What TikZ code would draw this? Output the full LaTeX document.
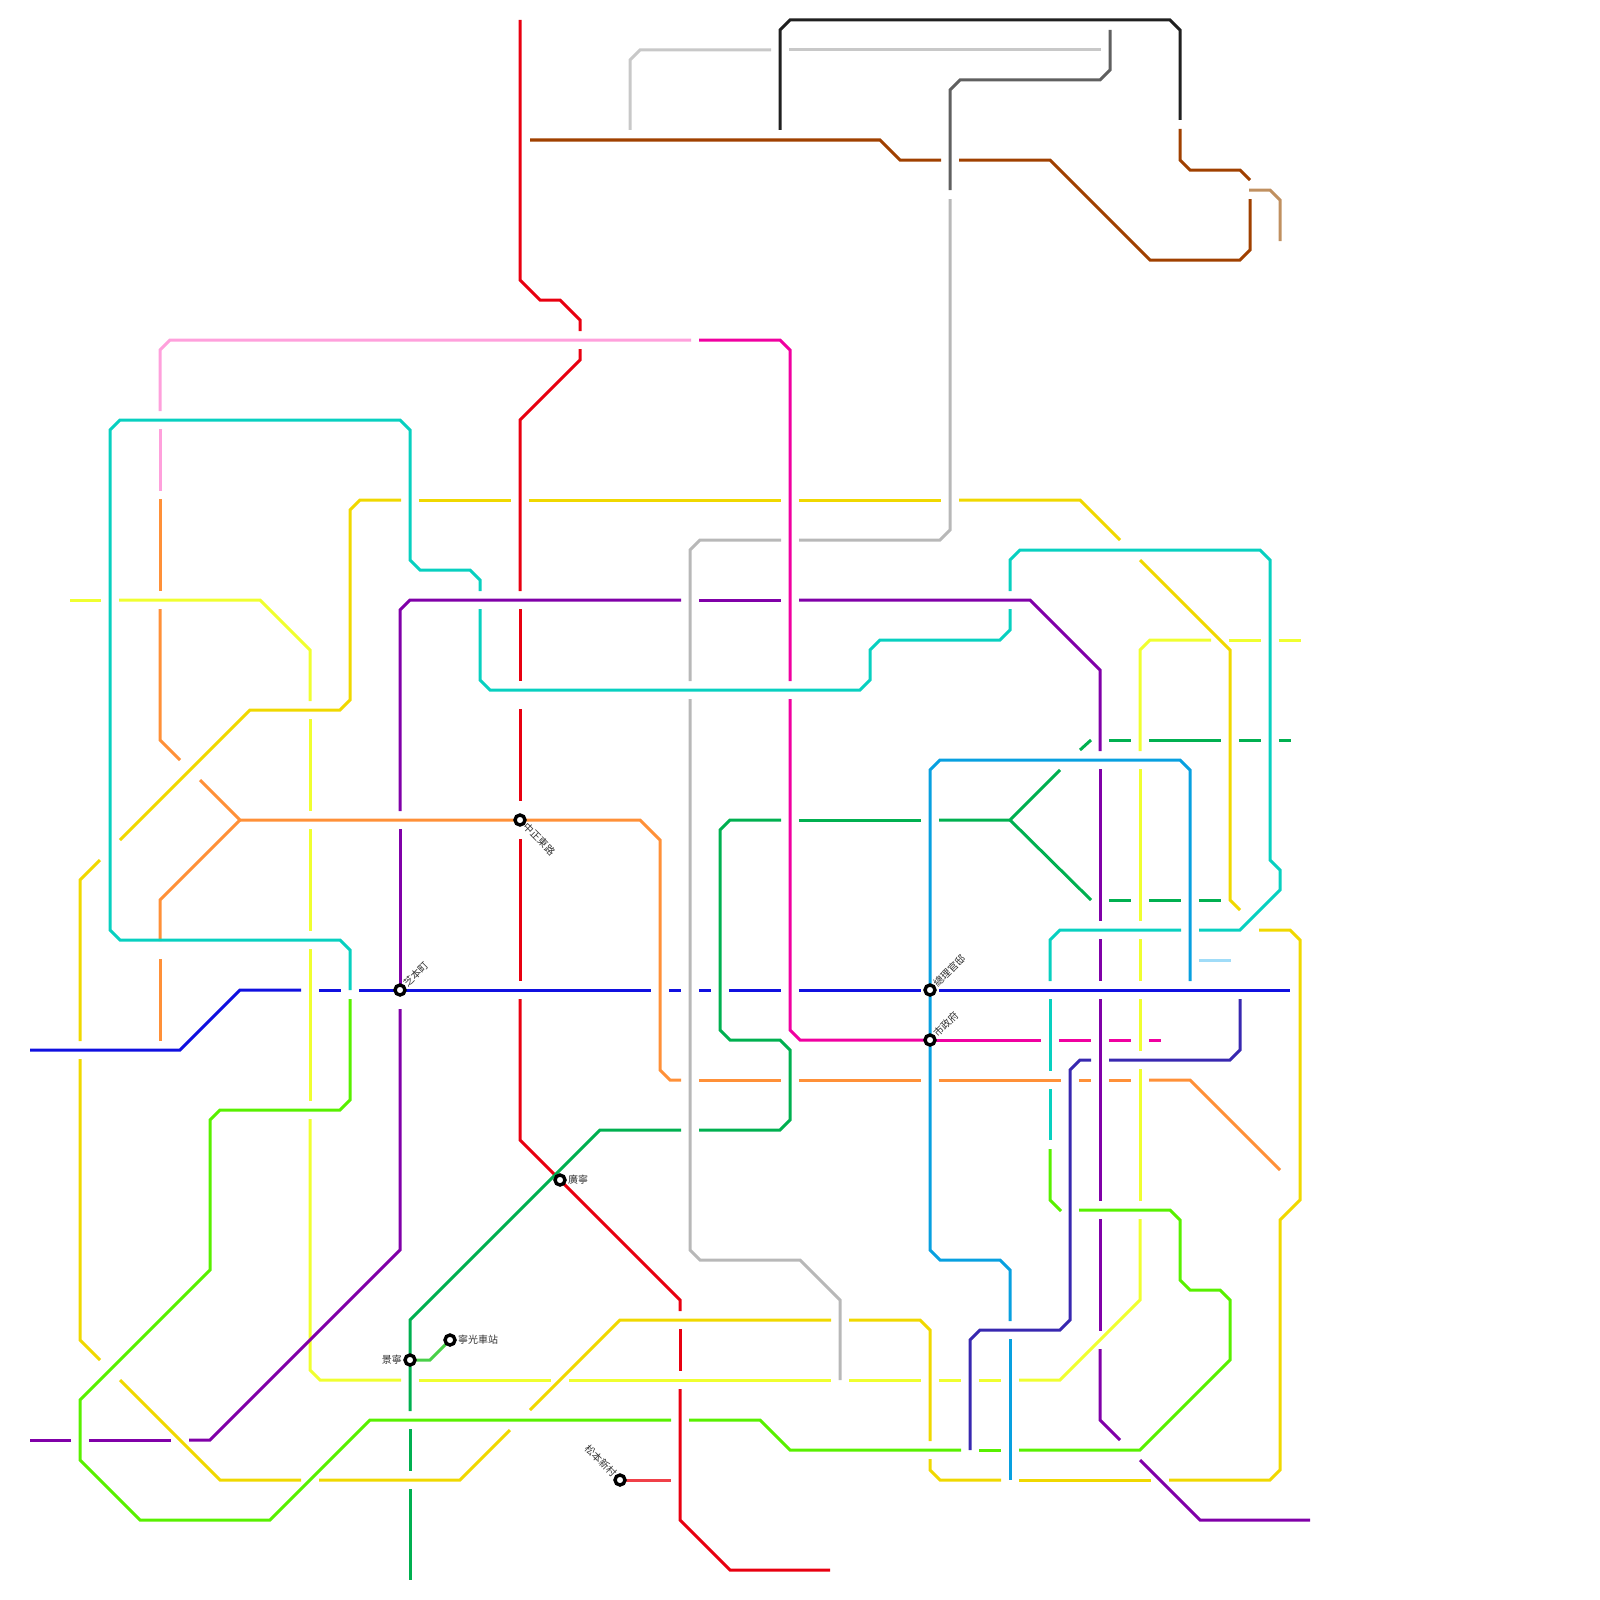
\documentclass[tikz,border=0pt]{standalone}
\usepackage{fontspec}
\setmainfont{Noto Sans CJK TC}
\tikzset{
  rail/.style={line width=3pt},
  lineRed/.style={rail, draw={rgb,255:red,232;green,0;blue,16}},
  lineStub/.style={rail, draw={rgb,255:red,240;green,64;blue,72}},
  lineHot/.style={rail, draw={rgb,255:red,240;green,0;blue,160}},
  linePale/.style={rail, draw={rgb,255:red,255;green,160;blue,220}},
  lineOrange/.style={rail, draw={rgb,255:red,255;green,144;blue,56}},
  lineTeal/.style={rail, draw={rgb,255:red,8;green,208;blue,192}},
  lineLime/.style={rail, draw={rgb,255:red,88;green,240;blue,0}},
  lineGold/.style={rail, draw={rgb,255:red,240;green,216;blue,0}},
  lineYellow/.style={rail, draw={rgb,255:red,240;green,255;blue,48}},
  linePurple/.style={rail, draw={rgb,255:red,128;green,0;blue,168}},
  lineBlue/.style={rail, draw={rgb,255:red,16;green,16;blue,224}},
  lineSky/.style={rail, draw={rgb,255:red,8;green,160;blue,224}},
  lineGreen/.style={rail, draw={rgb,255:red,0;green,176;blue,80}},
  lineLeaf/.style={rail, draw={rgb,255:red,72;green,208;blue,72}},
  lineNavy/.style={rail, draw={rgb,255:red,56;green,40;blue,176}},
  lineIce/.style={rail, draw={rgb,255:red,160;green,220;blue,248}},
  lineSilver/.style={rail, draw={rgb,255:red,200;green,200;blue,200}},
  lineBlack/.style={rail, draw={rgb,255:red,32;green,32;blue,32}},
  lineSlate/.style={rail, draw={rgb,255:red,96;green,96;blue,96}},
  lineAsh/.style={rail, draw={rgb,255:red,184;green,184;blue,184}},
  lineBrown/.style={rail, draw={rgb,255:red,160;green,64;blue,0}},
  lineTan/.style={rail, draw={rgb,255:red,192;green,144;blue,96}},
  station/.style={circle, draw=black, fill=white, line width=3.4pt, minimum size=10pt, inner sep=0pt},
  stnlabel/.style={font=\fontsize{10}{12}\selectfont, text={rgb,255:red,48;green,48;blue,48}, inner sep=0pt}
}
\begin{document}
\begin{tikzpicture}[x=1pt, y=-1pt]
  \useasboundingbox (0,0) rectangle (1600,1600);

  % Stasiun
  \coordinate (zhimoto) at (400,990);
  \coordinate (zhongzheng) at (520,820);
  \coordinate (zongli) at (930,990);
  \coordinate (shizheng) at (930,1040);
  \coordinate (guangning) at (560,1180);
  \coordinate (jingning) at (410,1360);
  \coordinate (ningguang) at (450,1340);
  \coordinate (songben) at (620,1480);

  % Red
  \draw[lineRed] (520,20) -- (520,280) -- (540,300) -- (560,300) -- (580,320) -- (580,331);
  \draw[lineRed] (580,349) -- (580,360) -- (520,420) -- (520,591);
  \draw[lineRed] (520,609) -- (520,681);
  \draw[lineRed] (520,709) -- (520,801);
  \draw[lineRed] (520,839) -- (520,981);
  \draw[lineRed] (520,999) -- (520,1140) -- (680,1300) -- (680,1311);
  \draw[lineRed] (680,1329) -- (680,1371);
  \draw[lineRed] (680,1389) -- (680,1520) -- (730,1570) -- (830,1570);
  \coordinate (songbenEnd) at (671,1480);
  \draw[lineStub] (songben) -- (songbenEnd);

  % Pink
  \draw[linePale] (160,411) -- (160,350) -- (170,340) -- (691,340);
  \draw[linePale] (160,429) -- (160,491);
  \draw[lineHot] (699,340) -- (780,340) -- (790,350) -- (790,681);
  \draw[lineHot] (790,699) -- (790,1030) -- (800,1040) -- (shizheng);
  \draw[lineHot] (shizheng) -- (1041,1040);
  \draw[lineHot] (1059,1040) -- (1091,1040);
  \draw[lineHot] (1109,1040) -- (1131,1040);
  \draw[lineHot] (1149,1040) -- (1161,1040);

  % Orange
  \draw[lineOrange] (160,499) -- (160,591);
  \draw[lineOrange] (160,609) -- (160,740) -- (180,760);
  \draw[lineOrange] (200,780) -- (240,820) -- (zhongzheng) -- (640,820) -- (660,840) -- (660,1070) -- (670,1080) -- (681,1080);
  \draw[lineOrange] (240,820) -- (160,900) -- (160,941);
  \draw[lineOrange] (160,959) -- (160,1041);
  \draw[lineOrange] (699,1080) -- (781,1080);
  \draw[lineOrange] (799,1080) -- (921,1080);
  \draw[lineOrange] (939,1080) -- (1061,1080);
  \draw[lineOrange] (1079,1080) -- (1091,1080);
  \draw[lineOrange] (1109,1080) -- (1131,1080);
  \draw[lineOrange] (1149,1080) -- (1190,1080) -- (1280,1170);

  % Teal
  \draw[lineTeal] (350,990) -- (350,950) -- (340,940) -- (120,940) -- (110,930) -- (110,430) -- (120,420) -- (400,420) -- (410,430) -- (410,560) -- (420,570) -- (470,570) -- (480,580) -- (480,591);
  \draw[lineTeal] (480,609) -- (480,680) -- (490,690) -- (860,690) -- (870,680) -- (870,650) -- (880,640) -- (1000,640) -- (1010,630) -- (1010,609);
  \draw[lineTeal] (1010,591) -- (1010,560) -- (1020,550) -- (1260,550) -- (1270,560) -- (1270,860) -- (1280,870) -- (1280,890) -- (1240,930) -- (1199,930);
  \draw[lineTeal] (1181,930) -- (1060,930) -- (1050,940) -- (1050,981);
  \draw[lineTeal] (1050,999) -- (1050,1071);
  \draw[lineTeal] (1050,1089) -- (1050,1140);

  % Lime
  \draw[lineLime] (350,999) -- (350,1100) -- (340,1110) -- (220,1110) -- (210,1120) -- (210,1270) -- (80,1400) -- (80,1460) -- (140,1520) -- (270,1520) -- (370,1420) -- (671,1420);
  \draw[lineLime] (689,1420) -- (760,1420) -- (790,1450) -- (961,1450);
  \draw[lineLime] (979,1450) -- (1001,1450);
  \draw[lineLime] (1019,1450) -- (1140,1450) -- (1230,1360) -- (1230,1300) -- (1220,1290) -- (1190,1290) -- (1180,1280) -- (1180,1220) -- (1170,1210) -- (1079,1210);
  \draw[lineLime] (1050,1149) -- (1050,1200) -- (1061,1211);

  % Gold
  \draw[lineGold] (120,840) -- (250,710) -- (340,710) -- (350,700) -- (350,510) -- (360,500) -- (401,500);
  \draw[lineGold] (419,500) -- (511,500);
  \draw[lineGold] (529,500) -- (781,500);
  \draw[lineGold] (799,500) -- (941,500);
  \draw[lineGold] (959,500) -- (1080,500) -- (1120,540);
  \draw[lineGold] (1140,560) -- (1230,650) -- (1230,900) -- (1240,910);
  \draw[lineGold] (100,860) -- (80,880) -- (80,1041);
  \draw[lineGold] (80,1059) -- (80,1340) -- (100,1360);
  \draw[lineGold] (120,1380) -- (220,1480) -- (301,1480);
  \draw[lineGold] (319,1480) -- (460,1480) -- (510,1430);
  \draw[lineGold] (530,1410) -- (620,1320) -- (831,1320);
  \draw[lineGold] (849,1320) -- (920,1320) -- (930,1330) -- (930,1441);
  \draw[lineGold] (930,1459) -- (930,1470) -- (940,1480) -- (1001,1480);
  \draw[lineGold] (1019,1480) -- (1151,1480);
  \draw[lineGold] (1169,1480) -- (1270,1480) -- (1280,1470) -- (1280,1220) -- (1300,1200) -- (1300,940) -- (1290,930) -- (1259,930);

  % Yellow
  \draw[lineYellow] (70,600) -- (101,600);
  \draw[lineYellow] (119,600) -- (260,600) -- (310,650) -- (310,701);
  \draw[lineYellow] (310,719) -- (310,811);
  \draw[lineYellow] (310,829) -- (310,931);
  \draw[lineYellow] (310,949) -- (310,1101);
  \draw[lineYellow] (310,1119) -- (310,1370) -- (320,1380) -- (401,1380);
  \draw[lineYellow] (419,1380) -- (551,1380);
  \draw[lineYellow] (569,1380) -- (831,1380);
  \draw[lineYellow] (849,1380) -- (921,1380);
  \draw[lineYellow] (939,1380) -- (961,1380);
  \draw[lineYellow] (979,1380) -- (1001,1380);
  \draw[lineYellow] (1019,1380) -- (1060,1380) -- (1140,1300) -- (1140,1219);
  \draw[lineYellow] (1140,1201) -- (1140,1069);
  \draw[lineYellow] (1140,1051) -- (1140,999);
  \draw[lineYellow] (1140,981) -- (1140,939);
  \draw[lineYellow] (1140,921) -- (1140,769);
  \draw[lineYellow] (1140,751) -- (1140,650) -- (1150,640) -- (1211,640);
  \draw[lineYellow] (1229,640) -- (1261,640);
  \draw[lineYellow] (1279,640) -- (1301,640);

  % Purple
  \draw[linePurple] (400,811) -- (400,610) -- (410,600) -- (681,600);
  \draw[linePurple] (699,600) -- (781,600);
  \draw[linePurple] (799,600) -- (1030,600) -- (1100,670) -- (1100,751);
  \draw[linePurple] (1100,769) -- (1100,921);
  \draw[linePurple] (1100,939) -- (1100,981);
  \draw[linePurple] (1100,999) -- (1100,1201);
  \draw[linePurple] (1100,1219) -- (1100,1331);
  \draw[linePurple] (1100,1349) -- (1100,1420) -- (1120,1440);
  \draw[linePurple] (1140,1460) -- (1200,1520) -- (1310,1520);
  \draw[linePurple] (400,829) -- (zhimoto);
  \draw[linePurple] (400,1009) -- (400,1250) -- (210,1440) -- (189,1440);
  \draw[linePurple] (171,1440) -- (89,1440);
  \draw[linePurple] (71,1440) -- (30,1440);

  % Blue
  \draw[lineBlue] (30,1050) -- (180,1050) -- (240,990) -- (301,990);
  \draw[lineBlue] (319,990) -- (341,990);
  \draw[lineBlue] (359,990) -- (zhimoto) -- (651,990);
  \draw[lineBlue] (669,990) -- (681,990);
  \draw[lineBlue] (699,990) -- (711,990);
  \draw[lineBlue] (729,990) -- (781,990);
  \draw[lineBlue] (799,990) -- (921,990);
  \draw[lineBlue] (939,990) -- (1290,990);

  % Sky
  \draw[lineSky] (1190,981) -- (1190,770) -- (1180,760) -- (940,760) -- (930,770) -- (930,1250) -- (940,1260) -- (1000,1260) -- (1010,1270) -- (1010,1321);
  \draw[lineSky] (1010,1339) -- (1010,1480);

  % Green
  \draw[lineGreen] (1060,770) -- (1010,820) -- (939,820);
  \draw[lineGreen] (1010,820) -- (1091,900);
  \draw[lineGreen] (1109,900) -- (1131,900);
  \draw[lineGreen] (1149,900) -- (1181,900);
  \draw[lineGreen] (1199,900) -- (1221,900);
  \draw[lineGreen] (1080,750) -- (1091,740);
  \draw[lineGreen] (1109,740) -- (1131,740);
  \draw[lineGreen] (1149,740) -- (1221,740);
  \draw[lineGreen] (1239,740) -- (1261,740);
  \draw[lineGreen] (1279,740) -- (1291,740);
  \draw[lineGreen] (921,820) -- (799,820);
  \draw[lineGreen] (781,820) -- (730,820) -- (720,830) -- (720,1030) -- (730,1040) -- (780,1040) -- (790,1050) -- (790,1120) -- (780,1130) -- (699,1130);
  \draw[lineGreen] (681,1130) -- (600,1130) -- (410,1320) -- (jingning) -- (410,1411);
  \draw[lineGreen] (410,1429) -- (410,1471);
  \draw[lineGreen] (410,1489) -- (410,1580);
  \draw[lineLeaf] (jingning) -- (430,1360) -- (ningguang);

  % Navy
  \draw[lineNavy] (970,1450) -- (970,1340) -- (980,1330) -- (1060,1330) -- (1070,1320) -- (1070,1070) -- (1080,1060) -- (1091,1060);
  \draw[lineNavy] (1109,1060) -- (1230,1060) -- (1240,1050) -- (1240,999);
  \draw[lineIce] (1199,960) -- (1231,960);

  % Top grey lines
  \draw[lineSilver] (630,130) -- (630,60) -- (640,50) -- (771,50);
  \draw[lineSilver] (789,50) -- (1101,50);
  \draw[lineBlack] (780,130) -- (780,30) -- (790,20) -- (1170,20) -- (1180,30) -- (1180,120);
  \draw[lineSlate] (1110,30) -- (1110,70) -- (1100,80) -- (960,80) -- (950,90) -- (950,190);
  \draw[lineAsh] (950,199) -- (950,530) -- (940,540) -- (799,540);
  \draw[lineAsh] (781,540) -- (700,540) -- (690,550) -- (690,681);
  \draw[lineAsh] (690,699) -- (690,1250) -- (700,1260) -- (800,1260) -- (840,1300) -- (840,1380);

  % Brown
  \draw[lineBrown] (530,140) -- (880,140) -- (900,160) -- (941,160);
  \draw[lineBrown] (959,160) -- (1050,160) -- (1150,260) -- (1240,260) -- (1250,250) -- (1250,199);
  \draw[lineBrown] (1180,129) -- (1180,160) -- (1190,170) -- (1240,170) -- (1250,180);
  \draw[lineTan] (1249,190) -- (1270,190) -- (1280,200) -- (1280,241);

  % Titik stasiun
  \node[station] (stZhimoto) at (zhimoto) {};
  \node[station] (stZhongzheng) at (zhongzheng) {};
  \node[station] (stZongli) at (zongli) {};
  \node[station] (stShizheng) at (shizheng) {};
  \node[station] (stGuangning) at (guangning) {};
  \node[station] (stJingning) at (jingning) {};
  \node[station] (stNingguang) at (ningguang) {};
  \node[station] (stSongben) at (songben) {};

  % Nama stasiun
  \node[stnlabel, rotate=45, anchor=west] (lbZhimoto) at (405,985) {芝本町};
  \node[stnlabel, rotate=-45, anchor=west] (lbZhongzheng) at (525,825) {中正東路};
  \node[stnlabel, rotate=45, anchor=west] (lbZongli) at (935,985) {總理官邸};
  \node[stnlabel, rotate=45, anchor=west] (lbShizheng) at (935,1035) {市政府};
  \node[stnlabel, anchor=west] (lbGuangning) at (568,1180) {廣寧};
  \node[stnlabel, anchor=east] (lbJingning) at (402,1360) {景寧};
  \node[stnlabel, anchor=west] (lbNingguang) at (458,1340) {寧光車站};
  \node[stnlabel, rotate=-45, anchor=east] (lbSongben) at (615,1475) {松本新村};
\end{tikzpicture}
\end{document}
